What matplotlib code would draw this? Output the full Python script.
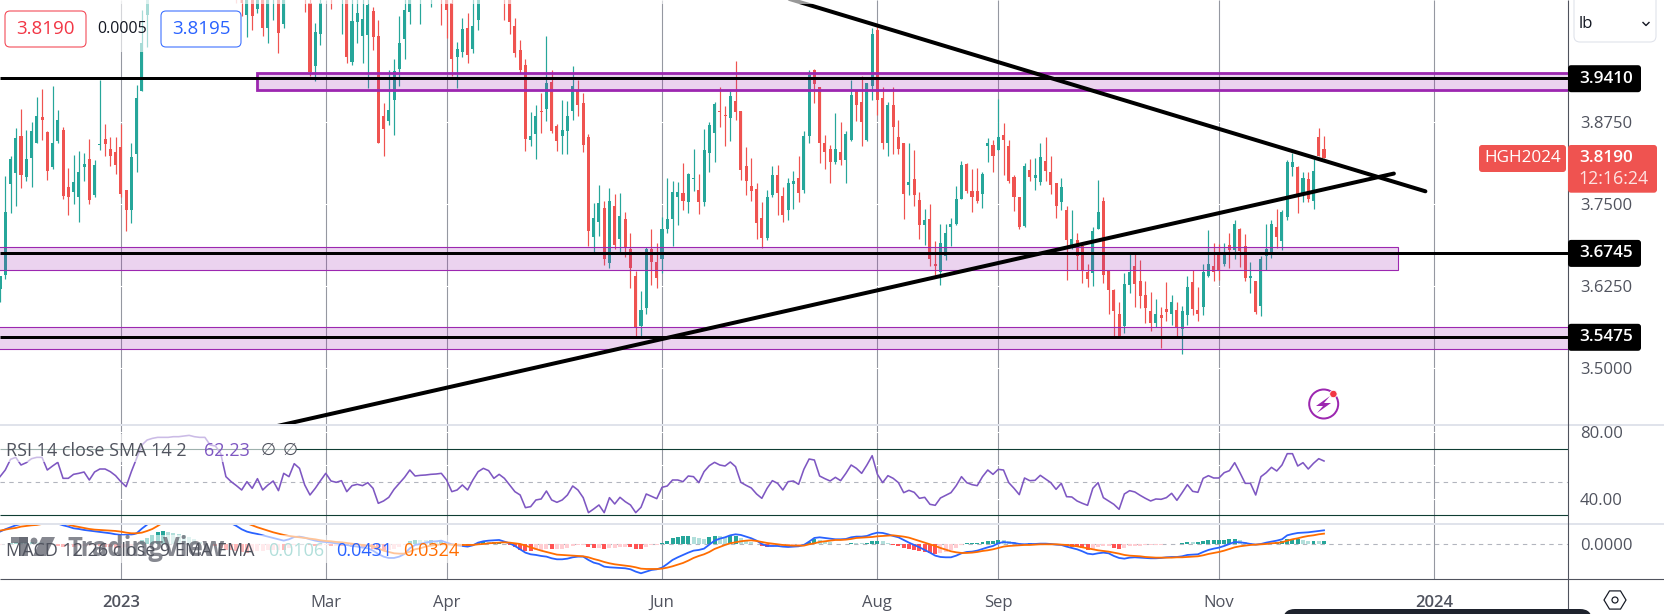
import numpy as np
import matplotlib
matplotlib.use('Agg')
import matplotlib.pyplot as plt
from matplotlib.patches import Rectangle, FancyBboxPatch, Circle, Polygon

plt.rcParams['font.family'] = ['Open Sans', 'DejaVu Sans']

nan = float('nan')

# daily candles, prices in 1/1000 USD per lb, nan = above the visible range
opens = [3620,3642,3780,3797,3853,3791,3820,3843,3882,3859,3806,3845,3863,3775,3768,3761,3806,3818,3763,3840,3848,3834,3829,3836,3771,3740,3825,3922,4037,
    nan,nan,nan,nan,nan,nan,nan,nan,nan,nan,nan,nan,nan,nan,nan,nan,
    4085,4075,4037,4080,4047,4085,4017,4070,4090,4024,nan,nan,nan,4090,4055,3960,4009,nan,4085,nan,4070,4085,3966,4027,4006,4007,4043,4005,3884,3876,3908,3955,4001,4042,nan,4070,nan,4075,nan,4090,4080,4055,3973,3981,4018,3985,4029,nan,nan,nan,nan,4090,4080,4020,3984,3961,3847,3856,3891,3894,3936,3868,
    3853,3860,3891,3923,3903,3852,3700,3723,3743,3660,3747,3696,3727,3681,3640,3564,3592,3681,3661,3666,3712,3727,3761,3767,3753,3788,3771,3752,3828,3858,3891,3885,3881,3906,3891,3808,3777,3773,3728,3698,3763,3794,3762,3741,3780,3789,3771,3853,3954,3927,3842,3833,3813,3829,3817,3847,3922,3905,3847,3929,4015,3911,3842,3900,3851,3842,3779,3787,3756,3718,3727,3659,3647,3670,3715,3719,3757,3811,3769,3769,3765,3838,3839,3832,3855,3838,3791,3761,3716,3802,3790,3783,3815,3798,3781,3752,3741,3688,3695,3686,3646,3645,3712,3754,3648,3619,3582,
    3564,3627,3656,3632,3611,3587,3569,3581,3590,3583,3588,3559,3581,3631,3588,3593,3640,3655,3675,3658,3687,3680,3712,3686,3637,3633,3595,3671,3677,3714,3694,3730,3806,3806,3767,3788,3755,3851,3834]
closes = [3640,3738,3818,3850,3794,3818,3860,3884,3877,3800,3842,3878,3762,3761,3783,3799,3811,3756,3809,3841,3841,3823,3809,3765,3740,3821,3911,3994,4090,
    nan,nan,nan,nan,nan,nan,nan,nan,nan,nan,nan,nan,nan,nan,nan,nan,
    4065,4055,4075,4035,4080,4017,4085,4090,4010,4085,nan,nan,nan,4070,3951,4012,4055,nan,4070,nan,4090,3974,4028,4040,4031,4053,4003,3842,3864,3893,3952,3995,4045,4075,nan,4090,nan,4090,nan,4070,4045,3970,3986,4016,3976,4020,4075,nan,nan,nan,nan,4070,4026,3980,3953,3848,3853,3884,3890,3933,3861,3845,
    3863,3884,3929,3900,3839,3709,3728,3751,3666,3754,3687,3731,3684,3653,3561,3588,3681,3662,3637,3711,3727,3768,3768,3754,3796,3789,3752,3832,3870,3902,3890,3884,3914,3889,3801,3784,3770,3721,3698,3760,3794,3767,3733,3782,3785,3766,3853,3946,3932,3842,3829,3813,3834,3817,3856,3916,3900,3874,3933,4008,3908,3842,3900,3867,3833,3765,3783,3763,3718,3725,3666,3656,3691,3705,3719,3757,3809,3769,3761,3754,3795,3843,3822,3852,3847,3785,3761,3715,3808,3791,3794,3821,3800,3778,3746,3776,3695,3696,3670,3648,3636,3709,3738,3641,3619,3587,3549,
    3628,3647,3628,3610,3591,3569,3582,3576,3586,3601,3561,3587,3623,3590,3582,3646,3658,3647,3649,3672,3680,3719,3678,3637,3640,3585,3666,3682,3719,3700,3738,3813,3813,3765,3790,3757,3800,3823,3819]
highs = [3640,3792,3823,3865,3894,3863,3875,3912,3924,3860,3929,3893,3867,3804,3824,3831,3828,3848,3817,3938,3872,3851,3852,3872,3771,3842,3931,4045,4110,
    nan,nan,nan,nan,nan,nan,nan,nan,nan,nan,nan,nan,nan,nan,nan,nan,
    4095,4090,4090,4095,4095,4100,4100,4105,4105,4095,nan,nan,nan,4100,4075,4025,4075,nan,4095,nan,4100,4100,4070,4075,4075,4075,4050,4030,3903,3954,3970,4036,4070,4090,nan,4100,nan,4100,nan,4100,4095,4075,3996,4032,4040,4070,4090,nan,nan,nan,nan,4100,4095,4032,3999,3970,3890,3900,3919,4005,3954,3872,
    3908,3906,3960,3938,3918,3856,3751,3779,3754,3774,3765,3767,3737,3705,3648,3617,3685,3712,3691,3730,3789,3785,3783,3812,3797,3833,3796,3864,3875,3905,3927,3899,3922,3967,3891,3837,3820,3782,3753,3771,3808,3809,3776,3789,3800,3823,3861,3954,3955,3927,3855,3839,3888,3875,3860,3938,3923,3944,3933,4017,4020,3927,3905,3927,3877,3842,3842,3832,3768,3742,3750,3693,3719,3720,3729,3777,3815,3812,3803,3804,3798,3850,3847,3910,3873,3847,3794,3761,3812,3818,3820,3842,3852,3823,3781,3789,3747,3741,3705,3686,3659,3714,3786,3761,3648,3621,3601,
    3644,3674,3674,3665,3632,3616,3605,3593,3631,3611,3601,3595,3640,3649,3624,3659,3710,3690,3689,3690,3706,3725,3713,3704,3661,3633,3671,3719,3725,3742,3741,3817,3828,3808,3798,3799,3818,3865,3853]
lows = [3600,3635,3736,3746,3774,3785,3776,3843,3847,3786,3803,3842,3757,3733,3750,3723,3784,3750,3761,3832,3822,3808,3796,3760,3709,3721,3799,3922,3989,
    nan,nan,nan,nan,nan,nan,nan,nan,nan,nan,nan,nan,nan,nan,nan,nan,
    4055,4035,4004,4015,4040,4005,3995,4030,3980,4018,nan,nan,nan,4041,3945,3937,3992,nan,4047,nan,4009,3964,3961,3994,3964,3926,3984,3842,3823,3870,3855,3929,3971,4023,nan,4023,nan,4050,nan,4022,4002,3944,3926,3973,3964,3979,4014,nan,nan,nan,nan,4029,4009,3974,3948,3831,3838,3818,3858,3876,3858,3831,
    3826,3826,3877,3883,3829,3686,3677,3701,3657,3653,3682,3677,3669,3622,3549,3549,3583,3627,3622,3645,3705,3686,3718,3741,3736,3769,3735,3746,3799,3813,3867,3838,3845,3877,3786,3763,3755,3696,3683,3695,3760,3733,3723,3725,3742,3752,3767,3843,3904,3812,3803,3782,3811,3809,3782,3845,3876,3838,3845,3908,3885,3834,3822,3826,3825,3727,3763,3747,3696,3687,3656,3642,3626,3665,3686,3718,3757,3766,3738,3751,3744,3813,3798,3832,3794,3782,3739,3712,3714,3785,3771,3779,3785,3765,3729,3740,3634,3682,3650,3629,3624,3625,3711,3629,3582,3549,3548,
    3553,3614,3593,3591,3569,3557,3563,3531,3571,3566,3549,3521,3566,3581,3572,3581,3639,3632,3634,3655,3652,3666,3654,3632,3614,3582,3580,3650,3667,3683,3680,3725,3792,3736,3753,3753,3742,3823,3819]

rsi = [53.2,57.2,63.6,64.8,60.2,61.6,64.0,64.8,64.8,57.2,59.6,61.8,52.2,52.2,54.6,55.2,56.0,51.2,56.0,57.8,57.8,56.2,53.8,50.2,47.2,56.2,64.2,72.2,75.2,76.2,
    76.8,76.8,76.8,77.2,77.2,77.6,78.0,77.2,76.8,76.8,72.2,71.6,67.2,53.2,50.2,47.8,45.2,50.2,46.2,52.0,45.2,48.2,50.6,44.8,55.2,53.2,61.0,58.2,48.2,42.2,
    46.2,50.8,55.2,50.6,49.8,50.8,44.2,47.8,48.6,47.8,49.6,46.2,37.2,38.6,40.8,45.6,49.2,52.8,57.2,53.6,54.0,54.2,54.6,54.8,55.2,51.2,44.2,45.2,48.2,45.2,
    51.2,56.2,58.2,56.8,52.2,54.6,52.2,48.2,44.2,42.2,34.6,35.2,39.2,39.8,44.6,39.2,37.8,39.2,42.2,47.6,45.2,40.6,31.6,33.8,36.2,31.6,40.6,36.8,40.8,38.2,
    36.2,31.6,34.8,42.8,41.4,40.0,46.8,47.6,51.2,51.2,50.2,53.6,53.2,49.6,56.2,59.8,61.8,60.2,59.6,62.0,59.2,49.8,48.0,46.4,42.8,40.2,46.2,50.8,49.2,45.2,
    50.2,50.6,48.6,57.6,63.8,63.2,53.6,52.0,50.6,52.8,50.8,55.2,60.2,58.2,55.2,60.2,65.8,54.6,49.6,53.8,52.2,49.6,43.6,45.0,43.8,40.2,40.8,36.6,36.0,40.4,
    42.0,43.6,47.8,53.2,49.6,48.4,47.8,53.2,57.2,54.6,57.6,57.2,49.6,46.2,42.4,52.4,50.8,51.0,54.0,51.8,49.6,45.6,49.2,41.2,41.0,38.6,37.2,36.0,46.2,49.6,
    40.6,38.6,36.6,33.6,42.8,44.8,44.0,42.0,40.2,38.6,39.8,39.6,40.6,43.2,39.0,43.6,48.4,44.4,43.8,52.2,53.8,52.4,52.4,55.6,56.8,61.6,55.6,49.2,49.2,42.2,
    53.2,55.6,58.8,56.6,60.2,67.0,67.0,59.6,61.6,57.8,61.2,64.0,62.6]

# MACD and signal in thousandths
macd_line = [38.8,45.9,52.0,58.1,62.2,64.3,66.3,67.3,68.3,68.3,69.4,63.2,58.1,54.1,49.0,46.9,43.9,41.8,39.8,37.7,35.7,33.7,30.6,28.6,28.6,28.6,33.7,47.9,60.2,74.5,
    94.9,107.1,113.2,117.3,119.3,122.4,121.4,117.3,110.2,103.0,98.9,90.8,82.6,72.4,64.3,56.1,45.9,38.8,34.7,31.6,27.5,23.5,19.4,15.3,11.2,15.3,22.4,23.5,20.4,15.3,
    11.2,8.2,7.1,5.1,3.1,1.0,-2.0,-5.1,-7.1,-10.2,-12.2,-19.4,-29.6,-37.7,-41.8,-41.8,-37.7,-29.6,-12.2,-2.0,1.0,5.1,8.2,9.2,11.2,5.1,0,-3.1,-5.1,-7.1,
    -3.1,5.1,9.2,11.2,12.2,13.3,8.2,3.1,-5.1,-15.3,-25.5,-30.6,-32.6,-35.7,-37.7,-42.8,-45.9,-45.9,-43.9,-39.8,-37.7,-37.7,-47.9,-56.1,-60.2,-68.3,-70.4,-71.4,-72.4,-73.4,
    -76.5,-83.6,-88.7,-83.6,-78.5,-76.5,-71.4,-60.2,-47.9,-39.8,-32.6,-25.5,-19.4,-17.3,-13.3,-1.0,11.2,17.3,21.4,27.5,30.6,28.6,23.5,18.4,11.2,1.0,-5.1,-5.1,-5.1,-7.1,
    -8.2,-7.1,-6.1,-2.0,8.2,19.4,21.4,19.4,17.3,15.3,15.3,16.3,21.4,23.5,23.5,25.5,31.6,35.7,34.7,30.6,25.5,21.4,13.3,5.1,-2.0,-9.2,-17.3,-25.5,-34.7,-38.8,
    -39.8,-39.8,-34.7,-27.5,-23.5,-22.4,-19.4,-14.3,-9.2,-5.1,3.1,7.1,5.1,4.1,1.0,0,1.0,1.0,2.0,2.0,1.0,-1.0,-2.0,-7.1,-11.2,-15.3,-21.4,-28.6,-30.6,-27.5,
    -25.5,-27.5,-35.7,-41.8,-43.9,-40.8,-39.8,-40.8,-41.8,-42.8,-42.8,-41.8,-39.8,-38.8,-38.8,-36.7,-32.6,-31.6,-30.6,-23.5,-17.3,-13.3,-10.2,-5.1,1.0,7.1,6.1,4.1,1.0,-1.0,
    1.0,5.1,8.2,11.2,15.3,27.5,31.6,34.7,35.7,36.7,38.8,40.8,42.8]
signal_line = [41.8,44.9,47.9,50.0,54.1,56.1,58.1,59.2,62.2,65.3,68.3,69.4,65.3,60.2,56.1,53.0,50.0,46.9,44.9,43.9,42.8,41.8,40.8,38.8,35.7,33.7,33.7,35.7,40.8,46.9,
    56.1,66.3,74.5,82.6,88.7,93.8,97.9,101.0,102.0,101.0,96.9,94.9,92.8,88.7,82.6,76.5,70.4,64.3,58.1,52.0,46.9,41.8,36.7,32.6,28.6,25.5,23.5,21.4,19.4,17.3,
    15.3,12.2,10.2,9.2,7.1,6.1,4.1,2.0,0,-2.0,-4.1,-6.1,-12.2,-19.4,-23.5,-27.5,-28.6,-28.6,-22.4,-15.3,-12.2,-7.1,-4.1,-2.0,0,0,-1.0,-1.0,-2.0,-2.0,
    -2.0,0,1.0,3.1,4.1,5.1,6.1,5.1,3.1,1.0,-4.1,-9.2,-14.3,-19.4,-23.5,-27.5,-31.6,-32.6,-33.7,-34.7,-35.7,-36.7,-39.8,-44.9,-49.0,-54.1,-58.1,-61.2,-63.2,-65.3,
    -67.3,-70.4,-74.5,-75.5,-75.5,-75.5,-74.5,-71.4,-67.3,-62.2,-57.1,-50.0,-41.8,-35.7,-30.6,-23.5,-14.3,-8.2,-2.0,3.1,6.1,9.2,11.2,12.2,10.2,7.1,4.1,2.0,0,-2.0,
    -3.1,-4.1,-4.1,-4.1,0,3.1,7.1,9.2,11.2,13.3,13.3,14.3,16.3,19.4,20.4,21.4,22.4,24.5,25.5,26.5,27.5,25.5,23.5,20.4,15.3,10.2,5.1,0,-5.1,-11.2,
    -16.3,-21.4,-24.5,-26.5,-26.5,-25.5,-23.5,-20.4,-18.4,-15.3,-11.2,-7.1,-5.1,-4.1,-3.1,-2.0,-2.0,-1.0,0,0,0,0,-1.0,-2.0,-4.1,-6.1,-9.2,-12.2,-15.3,-18.4,
    -20.4,-22.4,-25.5,-28.6,-32.6,-34.7,-35.7,-36.7,-38.8,-39.8,-40.8,-40.8,-40.8,-40.8,-39.8,-39.8,-38.8,-37.7,-36.7,-33.7,-29.6,-26.5,-23.5,-19.4,-14.3,-9.2,-6.1,-4.1,-2.0,-1.0,
    0,1.0,3.1,4.1,6.1,11.2,15.3,18.4,22.4,25.5,27.5,30.6,32.6]

month_pos = [23, 62, 85, 126, 167, 190, 232, 273]
month_labels = ['2023', 'Mar', 'Apr', 'Jun', 'Aug', 'Sep', 'Nov', '2024']

support_levels = [3.9410, 3.6745, 3.5475]
zone_top = (3.9235, 3.9495)
zone_mid = (3.6500, 3.6850)
zone_low = (3.5290, 3.5630)
falling_line = ([148, 271.3], [4.067, 3.769])
rising_line = ([50, 265.3], [3.407, 3.796])

GREEN = '#26a69a'
RED = '#ef5350'
PURPLE = '#9c27b0'
GRID = '#9598a1'
TEXT = '#50535e'
PX = 0.72  # one pixel in points at dpi 100
W, H = 1664, 614
AXIS_X = 1568
BAR_PX = 5.254

fig = plt.figure(figsize=(W / 100, H / 100), dpi=100)


def pane(top, bottom):
    ax = fig.add_axes([0, 1 - bottom / H, AXIS_X / W, (bottom - top) / H])
    ax.set_xlim(0, AXIS_X / BAR_PX)
    for s in ax.spines.values():
        s.set_visible(False)
    ax.yaxis.tick_right()
    ax.tick_params(length=0, labelsize=12, labelcolor=TEXT, pad=8.5)
    ax.set_xticks([])
    ax.set_facecolor('none')
    ax.vlines(month_pos, 0, 1, transform=ax.get_xaxis_transform(), color=GRID, lw=1.1 * PX, zorder=1)
    return ax


# price pane
ax = pane(0, 424.7)
ax.set_ylim(3.414, 4.060)
price_ticks = [3.5, 3.625, 3.75, 3.875]
ax.set_yticks(price_ticks, [f'{p:.4f}' for p in price_ticks])
ax.hlines(price_ticks, 0, 1, transform=ax.get_yaxis_transform(), color='white', lw=1.1 * PX, zorder=1.5)

o = np.array(opens) / 1000
h = np.array(highs) / 1000
l = np.array(lows) / 1000
c = np.array(closes) / 1000
idx = np.arange(len(o))
shown = ~np.isnan(o)
colors = np.where(c >= o, GREEN, RED)
ax.vlines(idx[shown], l[shown], h[shown], color=colors[shown], lw=1.2 * PX, zorder=2)
ax.bar(idx[shown], np.maximum(np.abs(c - o), 0.0012)[shown], bottom=np.minimum(o, c)[shown],
       width=0.58, color=colors[shown], zorder=3)

end_x = AXIS_X / BAR_PX
ax.add_patch(Rectangle((48.9, zone_top[0]), end_x - 48.9 + 2, zone_top[1] - zone_top[0], fc=PURPLE + '33', ec=PURPLE, lw=2.8 * PX, zorder=4))
ax.add_patch(Rectangle((-3, zone_mid[0]), 269, zone_mid[1] - zone_mid[0], fc=PURPLE + '33', ec=PURPLE, lw=1.1 * PX, zorder=4))
ax.add_patch(Rectangle((-3, zone_low[0]), end_x + 5, zone_low[1] - zone_low[0], fc=PURPLE + '33', ec=PURPLE, lw=1.1 * PX, zorder=4))
ax.hlines(support_levels, 0, 1, transform=ax.get_yaxis_transform(), color='black', lw=3.0 * PX, zorder=5)
for line in (falling_line, rising_line):
    ax.plot(line[0], line[1], color='black', lw=4.0 * PX, solid_capstyle='round', zorder=6)

# RSI pane
ax_rsi = pane(424.7, 524.3)
ax_rsi.set_ylim(24.6, 84.4)
ax_rsi.set_yticks([40, 80], ['40.00', '80.00'])
ax_rsi.hlines([40, 60, 80], 0, 1, transform=ax_rsi.get_yaxis_transform(), color='white', lw=1.1 * PX, zorder=1.5)
ax_rsi.hlines([70, 30], 0, 1, transform=ax_rsi.get_yaxis_transform(), color='#0f3d33', lw=1.1 * PX, zorder=2)
ax_rsi.hlines(50, 0, 1, transform=ax_rsi.get_yaxis_transform(), color='#b2b5be', lw=1.1 * PX, linestyles=(0, (4, 4)), zorder=2)
ax_rsi.plot(idx, rsi, color='#7e57c2', lw=1.6 * PX, zorder=3)

# MACD pane
ax_macd = pane(524.3, 579.3)
ax_macd.set_ylim(-0.1071, 0.0612)
ax_macd.set_yticks([0], ['0.0000'])
ax_macd.hlines(0, 0, 1, transform=ax_macd.get_yaxis_transform(), color='#b2b5be', lw=1.1 * PX, linestyles=(0, (4, 4)), zorder=1.5)
m = np.array(macd_line) / 1000
s = np.array(signal_line) / 1000
hist = m - s
prev = np.concatenate([[hist[0]], hist[:-1]])
hist_colors = np.where(hist >= 0, np.where(hist >= prev, GREEN, '#b2dfdb'), np.where(hist >= prev, '#ffcdd2', '#ff5252'))
ax_macd.bar(idx, hist, width=0.76, color=hist_colors, zorder=2)
ax_macd.plot(idx, m, color='#2962ff', lw=1.8 * PX, zorder=3)
ax_macd.plot(idx, s, color='#ff6d00', lw=1.8 * PX, zorder=4)
ax_macd.set_xticks(month_pos, month_labels)
ax_macd.tick_params(axis='x', pad=11.5, labelsize=12)
for lab in ax_macd.get_xticklabels():
    if lab.get_text() in ('2023', '2024'):
        lab.set_fontweight('semibold')

# everything drawn over the panes, laid out in pixels
ov = fig.add_axes([0, 0, 1, 1])
ov.set_xlim(0, W)
ov.set_ylim(H, 0)
ov.axis('off')
ov.set_facecolor('none')

# pale backing behind the legends
for x0, y0, x1, y1 in [(0, 0, 820, 4), (0, 0, 241, 52), (0, 434, 296, 462), (0, 535, 462, 563)]:
    ov.add_patch(Rectangle((x0, y0), x1 - x0, y1 - y0, fc='white', alpha=0.6, ec='none', zorder=1))

# separators and axes
ov.hlines([424.7, 524.3], 0, W, color='#e0e3eb', lw=2 * PX, zorder=2)
ov.hlines(579.3, 0, W, color=TEXT, lw=1.1 * PX, zorder=2)
ov.vlines(AXIS_X, 0, H, color=TEXT, lw=1.1 * PX, zorder=2)


def tag(x0, y0, x1, y1, color, rounding=3):
    ov.add_patch(FancyBboxPatch((x0 + rounding, y0 + rounding), x1 - x0 - 2 * rounding, y1 - y0 - 2 * rounding,
                                boxstyle=f'round,pad={rounding},rounding_size={rounding}', fc=color, ec='none', zorder=3))


for level, y in zip(support_levels, [78.7, 253.4, 337.3]):
    tag(AXIS_X, y - 13.5, 1641, y + 13.5, 'black')
    ov.text(1606, y, f'{level:.4f}', color='white', fontsize=12.3, fontweight='semibold', ha='center', va='center', zorder=4)

tag(AXIS_X, 145, 1657, 192.7, RED)
ov.text(1606, 158, '3.8190', color='white', fontsize=12.3, fontweight='semibold', ha='center', va='center', zorder=4)
ov.text(1613, 179, '12:16:24', color='#fde3e2', fontsize=12.8, ha='center', va='center', zorder=4)
tag(1479, 145, 1566, 172, RED)
ov.text(1522.5, 158, 'HGH2024', color='white', fontsize=12.3, ha='center', va='center', zorder=4)

# bid / ask boxes
for x0, x1, col, txt in [(5, 86, '#f23645', '3.8190'), (161, 241, '#2962ff', '3.8195')]:
    ov.add_patch(FancyBboxPatch((x0 + 5, 16), x1 - x0 - 10, 26, boxstyle='round,pad=5,rounding_size=5',
                                fc='white', ec=col, lw=1.1 * PX, alpha=0.9, zorder=3))
    ov.text((x0 + x1) / 2, 29, txt, color=col, fontsize=13.5, ha='center', va='center', zorder=4)
ov.text(122.5, 29, '0.0005', color='#131722', fontsize=11.5, ha='center', va='center', zorder=4)

# unit selector
ov.add_patch(FancyBboxPatch((1580, -10), 70, 46, boxstyle='round,pad=6,rounding_size=6', fc='white', ec='#e0e3eb', lw=1.1 * PX, zorder=3))
ov.text(1579, 24, 'lb', color='#131722', fontsize=12, ha='left', va='center', zorder=4)
ov.plot([1643, 1646, 1649], [22.5, 25.5, 22.5], color='#131722', lw=1.4 * PX, zorder=4)

# legends
ov.text(6, 450.7, 'RSI 14 close SMA 14 2', color=TEXT, fontsize=13, va='center', zorder=6)
ov.text(203.6, 450.7, '62.23', color='#7e57c2', fontsize=13, va='center', zorder=6)
ov.text(261, 450.7, '\u2205', color=TEXT, fontsize=12.5, va='center', zorder=6)
ov.text(283, 450.7, '\u2205', color=TEXT, fontsize=12.5, va='center', zorder=6)
ov.text(6, 550.7, 'MACD 12 26 close 9 EMA EMA', color=TEXT, fontsize=13, va='center', zorder=6)
ov.text(268, 550.7, '0.0106', color='#b2dfdb', fontsize=13, va='center', zorder=6)
ov.text(336, 550.7, '0.0431', color='#2962ff', fontsize=13, va='center', zorder=6)
ov.text(403, 550.7, '0.0324', color='#ff6d00', fontsize=13, va='center', zorder=6)

# watermark
wm = '#5d606b'
ov.add_patch(Rectangle((11, 537), 17, 6, fc=wm, alpha=0.75, ec='none', zorder=5))
ov.add_patch(Rectangle((19, 537), 9, 19, fc=wm, alpha=0.75, ec='none', zorder=5))
ov.add_patch(Circle((34, 541), 3.4, fc=wm, alpha=0.75, ec='none', zorder=5))
ov.add_patch(Polygon([(42, 537), (55, 537), (46, 556), (33, 556)], fc=wm, alpha=0.75, ec='none', zorder=5))
ov.text(67, 548, 'TradingView', color=wm, alpha=0.75, fontsize=18.5, fontweight='bold', va='center', zorder=5)

# flash icon
ov.add_patch(Circle((1323.7, 404), 14.5, fc='white', ec=PURPLE, lw=2 * PX, zorder=5))
ov.add_patch(Polygon([(1330, 396), (1316, 406), (1323, 406), (1317, 413), (1331, 403), (1324, 403)], fc=PURPLE, ec='none', zorder=6))
ov.add_patch(Circle((1333.4, 394), 3.7, fc='#f23645', ec='white', lw=0.8 * PX, zorder=7))

# settings icon and the pill at the bottom edge
hx, hy = 1615, 600
ang = np.deg2rad(np.arange(0, 360, 60))
ov.add_patch(Polygon(np.column_stack([hx + 11 * np.cos(ang), hy + 10.5 * np.sin(ang)]), fc='none', ec='#131722', lw=1.2 * PX, zorder=4))
ov.add_patch(Circle((hx, hy), 3, fc='none', ec='#131722', lw=1.2 * PX, zorder=4))
ov.add_patch(FancyBboxPatch((1295, 621), 285, 6, boxstyle='round,pad=12,rounding_size=12', fc='#1e222d', ec='none', zorder=4))

fig.savefig('out.png', dpi=100)
